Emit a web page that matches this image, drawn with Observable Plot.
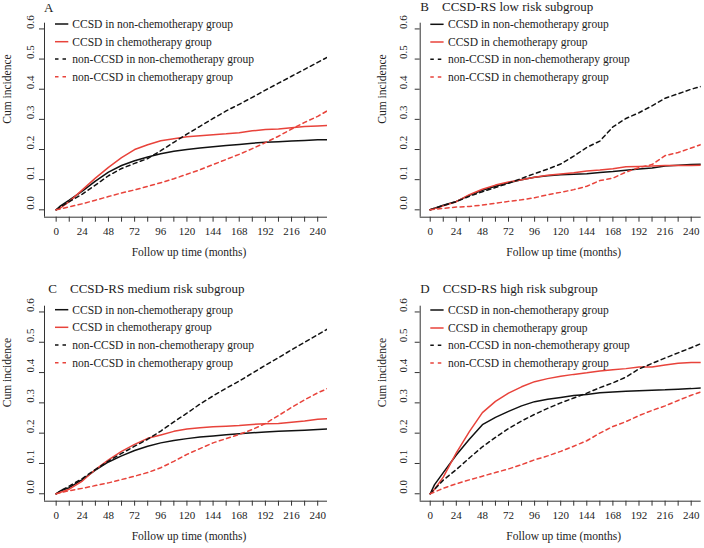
<!DOCTYPE html>
<html>
<head>
<meta charset="utf-8">
<script src="https://cdn.jsdelivr.net/npm/d3@7"></script>
<script src="https://cdn.jsdelivr.net/npm/@observablehq/plot@0.6"></script>
<style>
html, body { margin: 0; padding: 0; background: #fff; }
#chart { position: relative; width: 704px; height: 548px; overflow: hidden; font-family: "Liberation Serif", "Times New Roman", serif; }
#chart > svg { position: absolute; }
</style>
</head>
<body>
<div id="chart"></div>
<script>
// ---------- data ----------
const months = [0, 4, 12, 24, 36, 48, 60, 72, 84, 96, 108, 120, 132, 144, 156, 168, 180, 192, 204, 216, 228, 240, 252];

const seriesNames = [
  "CCSD in non-chemotherapy group",
  "CCSD in chemotherapy group",
  "non-CCSD in non-chemotherapy group",
  "non-CCSD in chemotherapy group"
];

const panelLetters = ["A", "B", "C", "D"];
const panelTitles = ["", "CCSD-RS low risk subgroup", "CCSD-RS medium risk subgroup", "CCSD-RS high risk subgroup"];

const xTicks = [0, 12, 24, 36, 48, 60, 72, 84, 96, 108, 120, 132, 144, 156, 168, 180, 192, 204, 216, 228, 240];
const xTickLabels = [0, 24, 48, 72, 96, 120, 144, 168, 192, 216, 240];
const yTicks = [0, 0.1, 0.2, 0.3, 0.4, 0.5, 0.6];
const xTitle = "Follow up time (months)";
const yTitle = "Cum incidence";

// Panel A (all patients)
const aCcsdNonChemo    = [0, 0.013, 0.032, 0.062, 0.095, 0.125, 0.147, 0.163, 0.175, 0.186, 0.194, 0.2, 0.205, 0.209, 0.213, 0.217, 0.221, 0.224, 0.226, 0.228, 0.23, 0.232, 0.233];
const aCcsdChemo       = [0, 0.006, 0.027, 0.066, 0.105, 0.141, 0.173, 0.2, 0.216, 0.229, 0.236, 0.242, 0.246, 0.249, 0.252, 0.256, 0.262, 0.266, 0.268, 0.272, 0.276, 0.278, 0.28];
const aNonCcsdNonChemo = [0, 0.01, 0.027, 0.052, 0.082, 0.113, 0.137, 0.154, 0.17, 0.196, 0.224, 0.251, 0.277, 0.303, 0.328, 0.35, 0.373, 0.397, 0.42, 0.443, 0.466, 0.489, 0.512];
const aNonCcsdChemo    = [0, 0.003, 0.01, 0.02, 0.032, 0.044, 0.056, 0.066, 0.078, 0.09, 0.103, 0.118, 0.133, 0.15, 0.167, 0.184, 0.203, 0.223, 0.244, 0.268, 0.29, 0.31, 0.335];

// Panel B (CCSD-RS low risk)
const bCcsdNonChemo    = [0, 0.005, 0.015, 0.028, 0.048, 0.065, 0.078, 0.09, 0.1, 0.108, 0.113, 0.116, 0.118, 0.12, 0.124, 0.127, 0.131, 0.135, 0.139, 0.145, 0.148, 0.15, 0.151];
const bCcsdChemo       = [0, 0.004, 0.013, 0.027, 0.05, 0.068, 0.082, 0.092, 0.1, 0.108, 0.115, 0.119, 0.123, 0.129, 0.132, 0.136, 0.143, 0.144, 0.145, 0.147, 0.147, 0.147, 0.148];
const bNonCcsdNonChemo = [0, 0.005, 0.014, 0.027, 0.045, 0.06, 0.074, 0.088, 0.104, 0.12, 0.135, 0.152, 0.178, 0.207, 0.228, 0.275, 0.303, 0.322, 0.345, 0.37, 0.385, 0.4, 0.412];
const bNonCcsdChemo    = [0, 0.002, 0.005, 0.009, 0.011, 0.016, 0.022, 0.028, 0.033, 0.04, 0.05, 0.058, 0.067, 0.078, 0.097, 0.105, 0.125, 0.14, 0.15, 0.18, 0.19, 0.205, 0.22];

// Panel C (CCSD-RS medium risk)
const cCcsdNonChemo    = [0, 0.01, 0.02, 0.047, 0.078, 0.105, 0.125, 0.143, 0.157, 0.168, 0.176, 0.182, 0.187, 0.191, 0.195, 0.198, 0.201, 0.204, 0.206, 0.208, 0.21, 0.212, 0.214];
const cCcsdChemo       = [0, 0.005, 0.015, 0.042, 0.08, 0.112, 0.14, 0.163, 0.183, 0.194, 0.206, 0.214, 0.218, 0.221, 0.223, 0.225, 0.229, 0.231, 0.232, 0.236, 0.24, 0.246, 0.248];
const cNonCcsdNonChemo = [0, 0.01, 0.025, 0.05, 0.08, 0.108, 0.133, 0.157, 0.18, 0.207, 0.237, 0.266, 0.296, 0.323, 0.348, 0.372, 0.398, 0.424, 0.449, 0.475, 0.5, 0.525, 0.55];
const cNonCcsdChemo    = [0, 0.004, 0.01, 0.018, 0.027, 0.036, 0.047, 0.058, 0.07, 0.086, 0.107, 0.13, 0.149, 0.168, 0.182, 0.196, 0.212, 0.232, 0.258, 0.285, 0.31, 0.333, 0.352];

// Panel D (CCSD-RS high risk)
const dCcsdNonChemo    = [0, 0.03, 0.07, 0.128, 0.18, 0.228, 0.252, 0.272, 0.29, 0.304, 0.312, 0.318, 0.324, 0.328, 0.333, 0.336, 0.338, 0.34, 0.342, 0.343, 0.345, 0.347, 0.35];
const dCcsdChemo       = [0, 0.015, 0.055, 0.135, 0.205, 0.268, 0.305, 0.332, 0.353, 0.37, 0.38, 0.388, 0.394, 0.399, 0.405, 0.409, 0.413, 0.418, 0.418, 0.425, 0.431, 0.433, 0.433];
const dNonCcsdNonChemo = [0, 0.015, 0.045, 0.08, 0.118, 0.155, 0.186, 0.215, 0.24, 0.262, 0.282, 0.3, 0.316, 0.332, 0.35, 0.366, 0.385, 0.412, 0.43, 0.448, 0.465, 0.482, 0.5];
const dNonCcsdChemo    = [0, 0.006, 0.018, 0.033, 0.046, 0.058, 0.07, 0.082, 0.096, 0.112, 0.125, 0.14, 0.157, 0.175, 0.2, 0.222, 0.238, 0.258, 0.275, 0.29, 0.308, 0.325, 0.34];

// ---------- styling ----------
const RED = "#e8433b";
const BLACK = "#111";
const seriesStyles = [
  {stroke: BLACK, dash: null},
  {stroke: RED, dash: null},
  {stroke: BLACK, dash: "4,3.5"},
  {stroke: RED, dash: "4,3.5"}
];
const FONT = '"Liberation Serif", "Times New Roman", serif';
const yDomain = [-0.0245, 0.619];

const panels = [
  {series: [aCcsdNonChemo, aCcsdChemo, aNonCcsdNonChemo, aNonCcsdChemo], left: 0, top: 0,
   ml: 44, mr: 25, mt: 22.7, mb: 57.3, xDomain: [-10.7, 249], yTickOff: 14.5,
   letterX: 44, titleX: 0, titleBase: 11.7, legLine: 55, legText: 72.3, legRows: [24, 41.7, 59, 76.7]},
  {series: [bCcsdNonChemo, bCcsdChemo, bNonCcsdNonChemo, bNonCcsdChemo], left: 352, top: 0,
   ml: 67.7, mr: 3.3, mt: 22.7, mb: 57.3, xDomain: [-9.2, 249.2], yTickOff: 17,
   letterX: 420.3, titleX: 442, titleBase: 11.2, legLine: 430.3, legText: 448, legRows: [24.3, 42, 59.3, 77]},
  {series: [cCcsdNonChemo, cCcsdChemo, cNonCcsdNonChemo, cNonCcsdChemo], left: 0, top: 274,
   ml: 44, mr: 25, mt: 31.7, mb: 47.3, xDomain: [-10.7, 249], yTickOff: 14.5,
   letterX: 48.3, titleX: 70, titleBase: 293.3, legLine: 55, legText: 72.3, legRows: [309.7, 327.3, 345, 362.7]},
  {series: [dCcsdNonChemo, dCcsdChemo, dNonCcsdNonChemo, dNonCcsdChemo], left: 352, top: 274,
   ml: 67.7, mr: 3.3, mt: 31.7, mb: 47.3, xDomain: [-9.2, 249.2], yTickOff: 17,
   letterX: 420.3, titleX: 442.7, titleBase: 293, legLine: 430.3, legText: 448, legRows: [310, 328, 345.3, 363]}
];

const chart = document.getElementById("chart");

panels.forEach((p) => {
  const lineMarks = p.series.map((vals, i) => {
    const rows = vals.map((v, j) => ({month: months[j], value: v}));
    const st = seriesStyles[i];
    const opts = {x: "month", y: "value", stroke: st.stroke, strokeWidth: 1.5, clip: true};
    if (st.dash) opts.strokeDasharray = st.dash;
    return Plot.line(rows, opts);
  });
  const svg = Plot.plot({
    width: 352,
    height: 274,
    marginLeft: p.ml, marginRight: p.mr, marginTop: p.mt, marginBottom: p.mb,
    x: {domain: p.xDomain},
    y: {domain: yDomain},
    style: {fontFamily: FONT, fontSize: "11px", color: "#222", background: "transparent", overflow: "visible"},
    marks: [
      Plot.ruleY([yDomain[0]], {stroke: "#333", strokeWidth: 1}),
      Plot.ruleX([p.xDomain[0]], {stroke: "#333", strokeWidth: 1}),
      Plot.axisX({ticks: xTicks, tickSize: 5, tickFormat: () => "", label: null, stroke: "#333"}),
      Plot.axisY({ticks: yTicks, tickSize: 5, tickFormat: () => "", label: null, stroke: "#333"}),
      Plot.text(xTickLabels, {x: d => d, text: d => String(d), frameAnchor: "bottom", dy: 17.8, fontSize: 11, fill: "#222"}),
      Plot.text(yTicks, {y: d => d, text: d => d.toFixed(1), frameAnchor: "left", dx: -p.yTickOff, rotate: -90, fontSize: 11, fill: "#222"}),
      Plot.text([xTitle], {text: d => d, frameAnchor: "bottom", dx: 3, dy: 39, fontSize: 11.5, fill: "#222"}),
      Plot.text([yTitle], {text: d => d, frameAnchor: "left", dx: -37.5, dy: 3.5, rotate: -90, fontSize: 11.5, fill: "#222"}),
      ...lineMarks
    ]
  });
  svg.style.left = p.left + "px";
  svg.style.top = p.top + "px";
  chart.appendChild(svg);
});

// ---------- overlay: panel titles and legends ----------
const overlay = d3.select(chart).append("svg")
  .attr("width", 704).attr("height", 548)
  .style("left", "0px").style("top", "0px")
  .style("font-family", FONT);

panels.forEach((p, k) => {
  overlay.append("text")
    .attr("x", p.letterX).attr("y", p.titleBase)
    .attr("font-size", 13).attr("fill", "#222")
    .text(panelLetters[k]);
  if (panelTitles[k]) {
    overlay.append("text")
      .attr("x", p.titleX).attr("y", p.titleBase)
      .attr("font-size", 13).attr("fill", "#222")
      .text(panelTitles[k]);
  }
  seriesNames.forEach((name, i) => {
    const st = seriesStyles[i];
    const yy = p.legRows[i];
    const ln = overlay.append("line")
      .attr("x1", p.legLine).attr("x2", p.legLine + 13.3)
      .attr("y1", yy).attr("y2", yy)
      .attr("stroke", st.stroke).attr("stroke-width", 1.5);
    if (st.dash) ln.attr("stroke-dasharray", "3.5,4");
    overlay.append("text")
      .attr("x", p.legText).attr("y", yy + 3.8)
      .attr("font-size", 11.5).attr("fill", "#222")
      .text(name);
  });
});
</script>
</body>
</html>
